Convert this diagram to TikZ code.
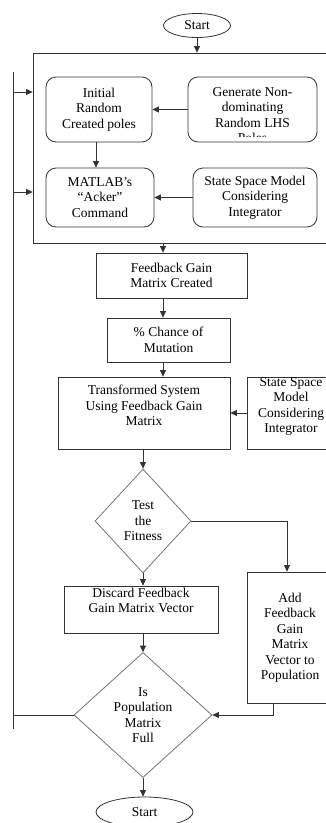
\documentclass[tikz,border=0pt]{standalone}
\usepackage{fontspec}
\setmainfont{Liberation Serif}
\usetikzlibrary{shapes.geometric,arrows.meta,calc}
\begin{document}
\begin{tikzpicture}[x=1pt,y=-1pt,
  every node/.style={font=\fontsize{13.5}{15.5}\selectfont, align=center, inner sep=0pt},
  ln/.style={draw=black!80, line width=0.8pt},
  arr/.style={ln, -{Triangle[length=6.5pt,width=6pt]}},
  sbox/.style={ln, rectangle},
  rbox/.style={ln, rectangle, rounded corners=10pt},
  dia/.style={draw=black!55, line width=0.8pt, diamond},
  oval/.style={ln, ellipse}]
\useasboundingbox (0,0) rectangle (325,823);
% nodes
\node[oval, minimum width=67pt, minimum height=24pt] (start) at (197,25.5) {Start};
\node[sbox, minimum width=302pt, minimum height=190pt] (big) at (184,148) {};
\node[rbox, minimum width=106pt, minimum height=65pt] (init) at (99,109.5) {Initial\\Random\\Created poles};
\node[rbox, minimum width=129pt, minimum height=65pt] (gen) at (252.5,109.5) {};
\begin{scope}
  \clip (gen.north west) rectangle ($(gen.south east)+(0,-6)$);
  \node (gentext) at (252.5,115) {Generate Non-\\dominating\\Random LHS\\Poles};
\end{scope}
\node[rbox, minimum width=108pt, minimum height=59pt] (mat) at (100,197.5) {MATLAB’s\\“Acker”\\Command};
\node[rbox, minimum width=124pt, minimum height=59pt] (ssa) at (255,197.5) {State Space Model\\Considering\\Integrator};
\node[sbox, minimum width=151pt, minimum height=45pt] (fb) at (171.5,275.5) {Feedback Gain\\Matrix Created};
\node[sbox, minimum width=123pt, minimum height=44pt] (pct) at (168.5,340) {\% Chance of\\Mutation};
\node[sbox, minimum width=172pt, minimum height=72pt] (tr) at (144,413) {Transformed System\\Using Feedback Gain\\Matrix\\\mbox{}};
\node[sbox, minimum width=88pt, minimum height=72pt] (ssb) at (291,413) {State Space\\Model\\Considering\\Integrator\\\mbox{}};
\node[dia, minimum width=96pt, minimum height=104pt] (test) at (143,521) {Test\\the\\Fitness};
\node[sbox, minimum width=154pt, minimum height=47pt] (dis) at (141,609.5) {Discard Feedback\\Gain Matrix Vector\\[3pt]};
\node[sbox, minimum width=86pt, minimum height=131pt] (add) at (290,637.5) {Add\\Feedback\\Gain\\Matrix\\Vector to\\Population};
\node[dia, minimum width=138pt, minimum height=125pt] (is) at (143,715) {Is\\Population\\Matrix\\Full};
\node[oval, minimum width=97pt, minimum height=30pt] (end) at (144.5,812) {Start};
% helper coordinates
\coordinate (col) at (163,0);
\coordinate (c96) at (96,0);
\coordinate (addx) at (273,0);
\coordinate (testx) at (287,0);
\coordinate (ltop) at (13,72);
\coordinate (lbot) at (13,729);
\coordinate (l1) at (13,92);
\coordinate (l2) at (13,192);
% connectors
\draw[arr] (start.south) -- (start.south |- big.north);
\draw[arr] (gen.west |- init.east) -- (init.east);
\draw[arr] (init.south -| c96) -- (mat.north -| c96);
\draw[arr] (ssa.west) -- (mat.east);
\draw[arr] (big.south -| col) -- (fb.north -| col);
\draw[arr] (fb.south -| col) -- (pct.north -| col);
\draw[arr] (pct.south -| col) -- (tr.north -| col);
\draw[arr] (ssb.west) -- (tr.east);
\draw[arr] (tr.south -| test.north) -- (test.north);
\draw[arr] (test.east) -| (add.north -| testx);
\draw[arr] (test.south) -- (test.south |- dis.north);
\draw[arr] (dis.south -| is.north) -- (is.north);
\draw[arr] (add.south -| addx) |- (is.east);
\draw[arr] (is.south) -- (end.north -| is.south);
\draw[ln] (is.west) -- (is.west -| ltop);
\draw[ln] (ltop) -- (lbot);
\draw[arr] (l1) -- (l1 -| big.west);
\draw[arr] (l2) -- (l2 -| big.west);
\end{tikzpicture}
\end{document}
